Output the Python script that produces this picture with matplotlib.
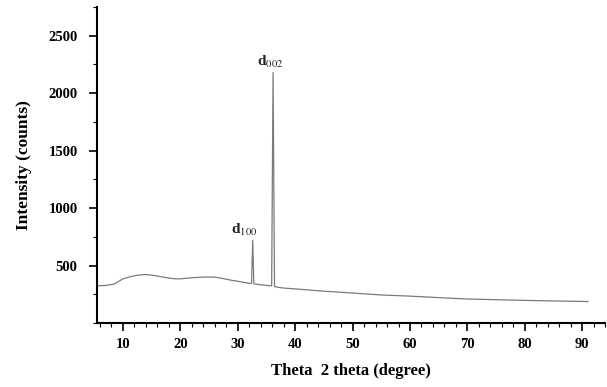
import matplotlib.pyplot as plt
from matplotlib.ticker import MultipleLocator

# XRD pattern
theta = [5.5, 7, 8.5, 10, 11, 12, 13, 14, 15, 16, 17, 18, 19, 20, 21, 22, 23, 24,
         25, 26, 27, 28, 29, 30, 31, 32, 32.4, 32.6, 32.8, 33, 34, 35, 35.9, 36.15,
         36.4, 37, 38, 40, 42, 45, 50, 55, 60, 65, 70, 75, 80, 85, 91]
intensity = [325, 328, 340, 385, 400, 412, 420, 422, 418, 410, 400, 392, 386, 385,
             390, 395, 398, 400, 401, 400, 392, 382, 372, 364, 355, 347, 345, 720, 343,
             340, 334, 328, 325, 2180, 318, 312, 305, 298, 290, 278, 262, 245, 235,
             222, 210, 204, 198, 193, 188]

peak_labels = [r'd$_{100}$', r'd$_{002}$']
peak_pos = [(31.2, 740), (35.7, 2200)]

plt.rcParams['font.family'] = ['Liberation Serif', 'DejaVu Serif']
plt.rcParams['mathtext.fontset'] = 'stix'

fig = plt.figure(figsize=(6.07, 3.87), dpi=100)
ax = fig.add_axes([0.16, 0.165, 0.837, 0.817])

ax.plot(theta, intensity, color='#7a7a7a', lw=0.9)

for lab, (x, y) in zip(peak_labels, peak_pos):
    ax.text(x, y, lab, fontsize=11, fontweight='bold', ha='center', va='bottom',
            color='#222222')

ax.set_xlim(5.5, 94)
ax.set_ylim(0, 2750)
ax.xaxis.set_minor_locator(MultipleLocator(2))
ax.set_xticks(range(10, 100, 10))
ax.yaxis.set_minor_locator(MultipleLocator(250))
ax.set_yticks([500, 1000, 1500, 2000, 2500])

for s in ['top', 'right']:
    ax.spines[s].set_visible(False)
ax.spines['left'].set_linewidth(1.5)
ax.spines['bottom'].set_linewidth(1.5)

ax.tick_params(axis='both', which='major', length=6, width=1.2, labelsize=10.5)
ax.tick_params(axis='y', which='major', pad=8)
ax.tick_params(axis='x', which='major', pad=5)
ax.tick_params(axis='both', which='minor', length=3, width=0.8)
for t in ax.get_xticklabels() + ax.get_yticklabels():
    t.set_fontweight('bold')

ax.set_xlabel('Theta  2 theta (degree)', fontsize=12, fontweight='bold', labelpad=8)
ax.set_ylabel('Intensity (counts)', fontsize=12.5, fontweight='bold', labelpad=12)

fig.savefig('out.png', dpi=100)
